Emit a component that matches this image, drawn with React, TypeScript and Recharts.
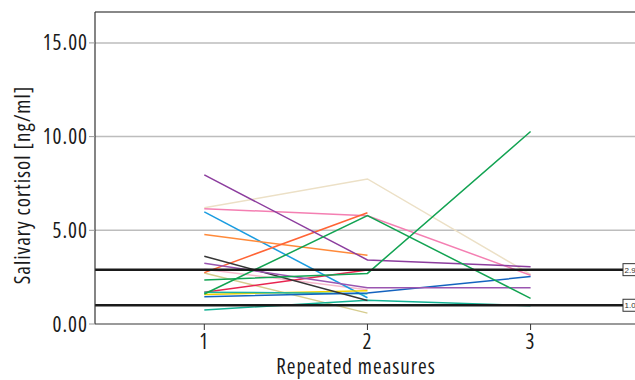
import React from 'react';
import { LineChart, Line, XAxis, YAxis, CartesianGrid, ReferenceLine } from 'recharts';

const measures = [1, 2, 3];
const yTicks = [0, 5, 10, 15];
const xTicks = [1, 2, 3];
const refValues = [2.9, 1.0];

const s01 = [7.96, 3.42, 3.06];
const s02 = [6.2, 7.74, 2.65];
const s03 = [6.15, 5.78, 2.6];
const s04 = [5.98, 1.4, null];
const s05 = [4.77, 3.67, null];
const s06 = [2.74, 5.94, null];
const s07 = [1.6, 5.78, 1.37];
const s08 = [2.35, 2.7, 10.27];
const s09 = [3.62, 1.25, null];
const s10 = [3.24, 1.94, 1.94];
const s11 = [2.92, 1.83, null];
const s12 = [2.72, 0.58, null];
const s13 = [1.7, 2.88, null];
const s14 = [1.58, 1.78, null];
const s15 = [1.46, 1.66, 2.53];
const s16 = [1.7, 1.62, null];
const s17 = [0.75, 1.27, 0.98];

const seriesList: { key: string; values: (number | null)[]; color: string }[] = [
  { key: 's02', values: s02, color: '#ece0c6' },
  { key: 's12', values: s12, color: '#d6cc8e' },
  { key: 's11', values: s11, color: '#f6b9cc' },
  { key: 's03', values: s03, color: '#f47fb2' },
  { key: 's04', values: s04, color: '#1a9ce0' },
  { key: 's05', values: s05, color: '#ff8a3a' },
  { key: 's06', values: s06, color: '#ff6435' },
  { key: 's13', values: s13, color: '#e82550' },
  { key: 's14', values: s14, color: '#f2d400' },
  { key: 's16', values: s16, color: '#18b4a2' },
  { key: 's17', values: s17, color: '#14b295' },
  { key: 's15', values: s15, color: '#1463bf' },
  { key: 's09', values: s09, color: '#363636' },
  { key: 's10', values: s10, color: '#9a55b0' },
  { key: 's01', values: s01, color: '#8c3d9e' },
  { key: 's07', values: s07, color: '#12a352' },
  { key: 's08', values: s08, color: '#12a352' },
];

const data = measures.map((m, i) => {
  const row: Record<string, number | null> = { x: m };
  seriesList.forEach((s) => {
    row[s.key] = s.values[i];
  });
  return row;
});

const FONT = '"Open Sans", "Liberation Sans", sans-serif';
const TXT: React.CSSProperties = {
  fontFamily: FONT,
  fontStretch: '75%',
  fontWeight: 400,
  letterSpacing: '1px',
} as any;

const refLabel = (text: string) => (props: any) => {
  const vb = props.viewBox || {};
  const right = (vb.x || 0) + (vb.width || 0);
  const y = vb.y || 0;
  return (
    <g>
      <rect x={right - 12} y={y - 6} width={24} height={12} fill="#fff" stroke="#333" strokeWidth={1} />
      <text x={right - 10.5} y={y + 3} fontSize={8} fill="#333" fontFamily="Liberation Sans, sans-serif">
        {text}
      </text>
    </g>
  );
};

const XTick = (props: any) => {
  const { x, y, payload } = props;
  return (
    <text x={x} y={y + 15} textAnchor="middle" fontSize={21} fill="#1a1a1a" style={TXT}>
      {payload.value}
    </text>
  );
};

const YTick = (props: any) => {
  const { x, y, payload } = props;
  return (
    <text x={x} y={y + 7.5} textAnchor="end" fontSize={21} fill="#1a1a1a" style={TXT}>
      {Number(payload.value).toFixed(2)}
    </text>
  );
};

export default function App() {
  return (
    <div style={{ position: 'absolute', left: 0, top: 0 }}>
      <LineChart
        width={635}
        height={380}
        data={data}
        margin={{ top: 12, right: 0, left: 0, bottom: 0 }}
      >
        <CartesianGrid vertical={false} stroke="#bdbdbd" strokeWidth={1.5} />
        <XAxis
          type="number"
          dataKey="x"
          domain={[0.33, 3.64]}
          ticks={xTicks}
          allowDataOverflow
          height={56}
          tickSize={6}
          tickMargin={4}
          axisLine={{ stroke: '#888', strokeWidth: 1.5 }}
          tickLine={{ stroke: '#333' }}
          tick={<XTick />}
          label={{
            content: () => (
              <text x={356} y={374} textAnchor="middle" fontSize={21} fill="#1a1a1a" style={TXT}>
                Repeated measures
              </text>
            ),
          }}
        />
        <YAxis
          type="number"
          domain={[0, 16.65]}
          ticks={yTicks}
          allowDataOverflow
          width={95}
          tickSize={6}
          tickMargin={1}
          axisLine={{ stroke: '#333', strokeWidth: 1.2 }}
          tickLine={{ stroke: '#999' }}
          tick={<YTick />}
          label={{
            content: () => (
              <text
                x={30}
                y={185}
                transform="rotate(-90 30 185)"
                textAnchor="middle"
                fontSize={21}
                fill="#1a1a1a"
                style={TXT}
              >
                Salivary cortisol [ng/ml]
              </text>
            ),
          }}
        />
        <ReferenceLine y={16.65} stroke="#444" strokeWidth={1.2} />
        {seriesList.map((s) => (
          <Line
            key={s.key}
            type="linear"
            dataKey={s.key}
            stroke={s.color}
            strokeWidth={1.5}
            dot={false}
            activeDot={false}
            connectNulls={false}
            isAnimationActive={false}
          />
        ))}
        {refValues.map((v) => (
          <ReferenceLine
            key={v}
            y={v}
            stroke="#1a1a1a"
            strokeWidth={2.5}
            label={refLabel(v.toFixed(1))}
          />
        ))}
      </LineChart>
    </div>
  );
}
